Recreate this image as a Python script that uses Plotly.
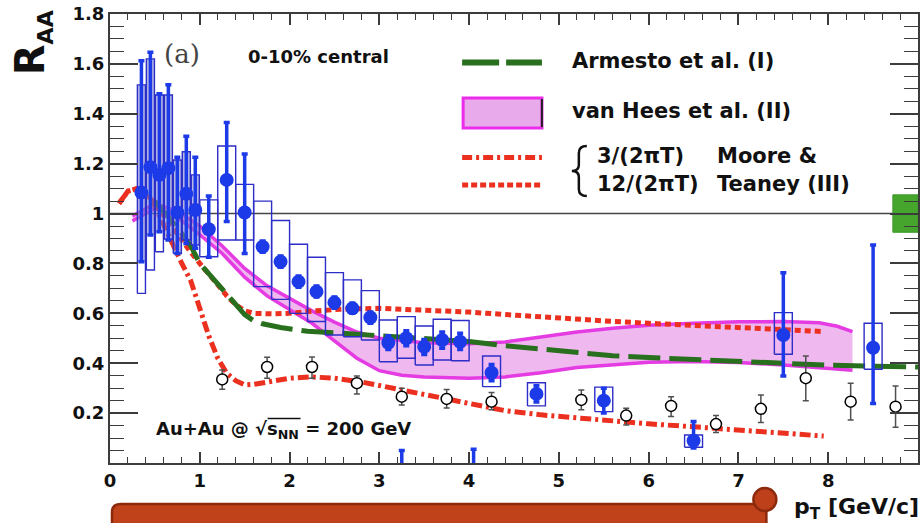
import plotly.graph_objects as go

# ---- heavy-flavour electron R_AA, 0-10% central Au+Au ----
pt = [0.35, 0.45, 0.55, 0.65, 0.75, 0.85, 0.95, 1.1, 1.3, 1.5, 1.7, 1.9, 2.1, 2.3,
      2.5, 2.7, 2.9, 3.1, 3.3, 3.5, 3.7, 3.9, 4.25, 4.75, 5.5, 6.5, 7.5, 8.5]
raa = [1.084, 1.186, 1.155, 1.182, 1.004, 1.079, 1.014, 0.937, 1.135, 1.004, 0.867,
       0.807, 0.727, 0.687, 0.643, 0.620, 0.583, 0.482, 0.500, 0.466, 0.493, 0.486,
       0.362, 0.277, 0.250, 0.089, 0.513, 0.462]
stat_hi = [1.613, 1.647, 1.480, 1.516, 1.226, 1.310, 1.226, 1.070, 1.365, 1.239, 0.890,
           0.830, 0.750, 0.710, 0.665, 0.640, 0.605, 0.510, 0.530, 0.495, 0.525, 0.520,
           0.395, 0.310, 0.300, 0.166, 0.763, 0.874]
stat_lo = [0.807, 0.914, 0.927, 0.894, 0.840, 0.880, 0.861, 0.825, 0.968, 0.840, 0.845,
           0.785, 0.705, 0.665, 0.620, 0.600, 0.560, 0.455, 0.470, 0.435, 0.460, 0.455,
           0.330, 0.245, 0.200, 0.060, 0.349, 0.239]
sys_hi = [1.516, 1.620, 1.475, 1.475, 1.215, 1.248, 1.155, 1.055, 1.271, 1.117, 1.050,
          0.972, 0.877, 0.825, 0.763, 0.734, 0.691, 0.573, 0.587, 0.549, 0.576, 0.571,
          0.429, 0.322, 0.304, 0.112, 0.603, 0.560]
sys_lo = [0.680, 0.774, 0.847, 0.897, 0.840, 0.894, 0.874, 0.827, 0.894, 0.894, 0.707,
          0.656, 0.600, 0.567, 0.513, 0.506, 0.493, 0.406, 0.420, 0.393, 0.413, 0.410,
          0.306, 0.229, 0.206, 0.063, 0.436, 0.376]

# points lying below the frame: only the tops of their error bars show
pt_below = [3.25, 4.05]
raa_below = [-0.20, -0.20]
top_below = [0.050, 0.055]

# open-circle reference points
pt_open = [1.25, 1.75, 2.25, 2.75, 3.25, 3.75, 4.25, 5.25, 5.75, 6.25, 6.75, 7.25,
           7.75, 8.25, 8.75]
raa_open = [0.335, 0.385, 0.385, 0.320, 0.266, 0.257, 0.246, 0.253, 0.190, 0.229,
            0.156, 0.217, 0.340, 0.246, 0.226]
open_hi = [0.373, 0.424, 0.425, 0.349, 0.300, 0.295, 0.283, 0.293, 0.219, 0.266,
           0.190, 0.273, 0.429, 0.320, 0.309]
open_lo = [0.296, 0.340, 0.340, 0.277, 0.233, 0.220, 0.213, 0.213, 0.152, 0.186,
           0.122, 0.162, 0.250, 0.172, 0.143]

# ---- model curves ----
armesto_pt = [0.5, 0.6, 0.7, 0.8, 0.9, 1.0, 1.1, 1.2, 1.3, 1.4, 1.5, 1.6, 1.7, 1.9,
              2.2, 2.5, 2.8, 3.2, 3.6, 4.0, 4.4, 4.8, 5.2, 5.6, 6.0, 6.5, 7.0, 7.5,
              8.0, 8.5, 9.0]
armesto_raa = [1.05, 1.01, 0.965, 0.92, 0.87, 0.80, 0.758, 0.72, 0.68, 0.635, 0.595,
               0.57, 0.558, 0.543, 0.528, 0.522, 0.516, 0.505, 0.497, 0.487, 0.470,
               0.455, 0.440, 0.430, 0.423, 0.415, 0.405, 0.398, 0.392, 0.388, 0.385]

vanhees_pt = [0.25, 0.5, 0.75, 1.0, 1.25, 1.5, 1.75, 2.0, 2.25, 2.5, 2.75, 3.0, 3.25,
              3.5, 4.0, 4.4, 4.8, 5.2, 5.6, 6.0, 6.5, 7.0, 7.5, 7.9, 8.1, 8.27]
vanhees_hi = [0.99, 1.04, 1.01, 0.95, 0.87, 0.78, 0.71, 0.66, 0.61, 0.565, 0.525, 0.50,
              0.49, 0.482, 0.478, 0.485, 0.505, 0.525, 0.54, 0.552, 0.56, 0.566,
              0.567, 0.562, 0.548, 0.527]
vanhees_lo = [0.97, 1.02, 0.985, 0.915, 0.84, 0.745, 0.67, 0.615, 0.56, 0.49, 0.42,
              0.37, 0.352, 0.345, 0.34, 0.345, 0.362, 0.383, 0.395, 0.404, 0.407,
              0.403, 0.393, 0.381, 0.376, 0.372]

mt12_pt = [0.1, 0.2, 0.3, 0.4, 0.5, 0.6, 0.7, 0.8, 0.9, 1.0, 1.1, 1.2, 1.3, 1.4, 1.5,
           1.6, 1.8, 2.0, 2.3, 2.6, 3.0, 3.5, 4.0, 4.5, 5.0, 5.5, 6.0, 6.5, 7.0, 7.5, 7.95]
mt12_raa = [1.04, 1.09, 1.10, 1.08, 1.04, 0.99, 0.94, 0.89, 0.845, 0.80, 0.76, 0.715,
            0.67, 0.635, 0.61, 0.60, 0.598, 0.60, 0.61, 0.617, 0.62, 0.615, 0.605,
            0.593, 0.58, 0.57, 0.56, 0.552, 0.544, 0.536, 0.527]

mt3_pt = [0.1, 0.2, 0.3, 0.4, 0.5, 0.6, 0.7, 0.8, 0.9, 1.0, 1.1, 1.2, 1.3, 1.4, 1.5,
          1.6, 1.8, 2.0, 2.25, 2.5, 2.8, 3.2, 3.6, 4.0, 4.4, 4.8, 5.2, 5.6, 6.0, 6.5,
          7.0, 7.5, 7.95]
mt3_raa = [1.04, 1.09, 1.10, 1.08, 1.03, 0.95, 0.87, 0.80, 0.73, 0.62, 0.51, 0.42, 0.36,
           0.33, 0.313, 0.315, 0.33, 0.34, 0.345, 0.34, 0.325, 0.295, 0.266, 0.238,
           0.21, 0.193, 0.18, 0.168, 0.157, 0.145, 0.132, 0.12, 0.108]

# global normalisation uncertainty at R_AA = 1
norm_pt = [8.72, 9.0]
norm_band = [0.925, 1.075]

x_ticks = [0, 1, 2, 3, 4, 5, 6, 7, 8, 9]
y_ticks = [0.2, 0.4, 0.6, 0.8, 1.0, 1.2, 1.4, 1.6, 1.8]
y_ticktext = ["0.2", "0.4", "0.6", "0.8", "1", "1.2", "1.4", "1.6", "1.8"]

BLUE = "rgb(28,58,232)"
RED = "rgb(236,48,32)"
GREEN = "rgb(40,112,30)"
MAGENTA = "rgb(228,60,226)"
PINK = "rgba(234,160,234,0.75)"
BOLD = "DejaVu Sans"

W, H = 923, 523
ML, MR, MT, MB = 110, 3, 14, 60
PW, PH = W - ML - MR, H - MT - MB


def fx(px):
    return (px - ML) / PW


def fy(py):
    return (H - MB - py) / PH


fig = go.Figure()

# unity line
fig.add_trace(go.Scatter(x=[x_ticks[0], x_ticks[-1]], y=[1, 1], mode="lines",
                         line=dict(color="rgb(70,70,70)", width=1.5), hoverinfo="skip"))

# van Hees band
fig.add_trace(go.Scatter(x=vanhees_pt, y=vanhees_lo, mode="lines",
                         line=dict(color=MAGENTA, width=3.5)))
fig.add_trace(go.Scatter(x=vanhees_pt, y=vanhees_hi, mode="lines", fill="tonexty",
                         fillcolor=PINK, line=dict(color=MAGENTA, width=3.5)))

# Moore & Teaney
fig.add_trace(go.Scatter(x=mt12_pt, y=mt12_raa, mode="lines",
                         line=dict(color=RED, width=5, dash="6px,4px")))
fig.add_trace(go.Scatter(x=mt3_pt, y=mt3_raa, mode="lines",
                         line=dict(color=RED, width=5, dash="11px,4px,3px,4px")))

# Armesto
fig.add_trace(go.Scatter(x=armesto_pt, y=armesto_raa, mode="lines",
                         line=dict(color=GREEN, width=5, dash="32px,9px")))

# normalisation box
fig.add_trace(go.Scatter(x=[norm_pt[0], norm_pt[1], norm_pt[1], norm_pt[0], norm_pt[0]],
                         y=[norm_band[0], norm_band[0], norm_band[1], norm_band[1], norm_band[0]],
                         mode="lines", fill="toself", fillcolor="rgb(70,165,45)",
                         line=dict(color="rgb(60,150,40)", width=1)))

# open circles
fig.add_trace(go.Scatter(
    x=pt_open, y=raa_open, mode="markers",
    marker=dict(symbol="circle", size=11, color="white",
                line=dict(color="black", width=1.5)),
    error_y=dict(type="data", symmetric=False,
                 array=[h - y for h, y in zip(open_hi, raa_open)],
                 arrayminus=[y - l for y, l in zip(raa_open, open_lo)],
                 color="rgb(80,80,80)", thickness=1.5, width=3)))

# systematic boxes
bx, by, sx, sy = [], [], [], []
for x, lo, hi, elo, ehi in zip(pt, sys_lo, sys_hi, stat_lo, stat_hi):
    w = 0.045 if x < 1 else 0.1
    bx += [x - w, x + w, x + w, x - w, x - w, None]
    by += [lo, lo, hi, hi, lo, None]
    if x < 1:
        a, b = max(lo, elo), min(hi, ehi)
        sx += [x - w, x + w, x + w, x - w, x - w, None]
        sy += [a, a, b, b, a, None]
fig.add_trace(go.Scatter(x=sx, y=sy, mode="none", fill="toself",
                         fillcolor="rgba(120,125,205,0.55)"))
fig.add_trace(go.Scatter(x=bx, y=by, mode="lines",
                         line=dict(color="rgb(45,45,200)", width=1.4)))

# heavy-flavour electrons
fig.add_trace(go.Scatter(
    x=pt, y=raa, mode="markers",
    marker=dict(symbol="circle", size=14, color=BLUE),
    error_y=dict(type="data", symmetric=False,
                 array=[h - y for h, y in zip(stat_hi, raa)],
                 arrayminus=[y - l for y, l in zip(raa, stat_lo)],
                 color=BLUE, thickness=3.5, width=3)))
fig.add_trace(go.Scatter(
    x=pt_below, y=raa_below, mode="markers",
    marker=dict(symbol="circle", size=14, color=BLUE),
    error_y=dict(type="data", symmetric=False,
                 array=[t - y for t, y in zip(top_below, raa_below)],
                 arrayminus=[0, 0], color=BLUE, thickness=3.5, width=3)))

axis_common = dict(showline=True, linecolor="rgb(60,60,60)", linewidth=2,
                   mirror="ticks", ticks="inside", tickcolor="rgb(60,60,60)",
                   tickwidth=1.5, showgrid=False, zeroline=False,
                   tickfont=dict(family=BOLD, size=18, color="#111", weight="bold"))

fig.update_layout(
    width=W, height=H, margin=dict(l=ML, r=MR, t=MT, b=MB),
    paper_bgcolor="white", plot_bgcolor="white", showlegend=False,
    xaxis=dict(range=[0, 9], tickvals=x_ticks, ticktext=[str(v) for v in x_ticks],
               ticklen=11, minor=dict(dtick=0.2, tick0=0, ticklen=6, ticks="inside",
                                      tickcolor="rgb(60,60,60)", tickwidth=1.2),
               **axis_common),
    yaxis=dict(range=[0, 1.8], tickvals=y_ticks, ticktext=y_ticktext,
               ticklen=28, minor=dict(dtick=0.05, tick0=0, ticklen=14, ticks="inside",
                                      tickcolor="rgb(60,60,60)", tickwidth=1.2),
               **axis_common),
)

ann = []


def text(s, x, y, size, xanchor="left", yanchor="middle", family=BOLD, weight="bold",
         color="#111", angle=0):
    ann.append(dict(text=s, x=fx(x), y=fy(y), xref="paper", yref="paper",
                    xanchor=xanchor, yanchor=yanchor, showarrow=False, textangle=angle,
                    font=dict(family=family, size=size, color=color, weight=weight)))


text("R<sub><span style='font-size:22px'>AA</span></sub>", 32, 43, 40,
     xanchor="center", angle=-90)
text("p<sub>T</sub> [GeV/c]", 923, 508, 22, xanchor="right")
text("(a)", 162, 54, 26, family="DejaVu Serif", weight="normal", color="#444")
text("0-10% central", 246, 57, 18)
text("Au+Au @ \u221as<sub>NN</sub> = 200 GeV", 154, 430, 18)

# legend
text("Armesto et al. (I)", 571, 61, 21)
text("van Hees et al. (II)", 571, 111, 21)
text("3/(2\u03c0T)", 596, 156, 21)
text("12/(2\u03c0T)", 596, 184, 21)
text("Moore &amp;", 716, 156, 21)
text("Teaney (III)", 716, 184, 21)

shapes = []
shapes.append(dict(type="line", xref="paper", yref="paper", x0=fx(463), x1=fx(543),
                   y0=fy(62.5), y1=fy(62.5),
                   line=dict(color=GREEN, width=6, dash="37px,7px")))
shapes.append(dict(type="rect", xref="paper", yref="paper", x0=fx(464), x1=fx(543),
                   y0=fy(98), y1=fy(128), fillcolor="rgb(232,170,234)",
                   line=dict(color="rgb(235,45,235)", width=3)))
shapes.append(dict(type="line", xref="paper", yref="paper", x0=fx(543), x1=fx(543),
                   y0=fy(99), y1=fy(127), line=dict(color="#222", width=2)))
shapes.append(dict(type="line", xref="paper", yref="paper", x0=fx(463), x1=fx(543),
                   y0=fy(157.5), y1=fy(157.5),
                   line=dict(color=RED, width=5, dash="10px,4px,3px,4px")))
shapes.append(dict(type="line", xref="paper", yref="paper", x0=fx(463), x1=fx(543),
                   y0=fy(185), y1=fy(185), line=dict(color=RED, width=5, dash="6px,3px")))


def path(pts):
    out = []
    for cmd, coords in pts:
        out.append(cmd + " ".join(f"{fx(a):.5f},{fy(b):.5f}" for a, b in coords))
    return " ".join(out)


# brace grouping the two Moore & Teaney curves
shapes.append(dict(type="path", xref="paper", yref="paper",
                   path=path([("M", [(588, 146)]), ("Q", [(580, 146), (580, 153)]),
                              ("L", [(580, 165)]), ("Q", [(580, 171), (573, 171)]),
                              ("Q", [(580, 171), (580, 177)]), ("L", [(580, 189)]),
                              ("Q", [(580, 196), (588, 196)])]),
                   line=dict(color="#111", width=2.5)))

# overline of the square root
shapes.append(dict(type="line", xref="paper", yref="paper", x0=fx(268), x1=fx(301),
                   y0=fy(418.5), y1=fy(418.5), line=dict(color="#111", width=1.6)))

# slide ribbon along the bottom
shapes.append(dict(type="path", xref="paper", yref="paper",
                   path=path([("M", [(112, 530)]), ("L", [(112, 512)]),
                              ("Q", [(112, 504), (121, 504)]), ("L", [(768, 504)]),
                              ("L", [(768, 530)])]) + " Z",
                   fillcolor="rgb(192,66,26)", line=dict(color="rgb(140,42,14)", width=2.5)))
shapes.append(dict(type="circle", xref="paper", yref="paper", x0=fx(755), x1=fx(778),
                   y0=fy(511), y1=fy(488), fillcolor="rgb(190,64,26)",
                   line=dict(color="rgb(140,42,14)", width=2.5)))

fig.update_layout(annotations=ann, shapes=shapes)
fig.write_html("out.html")
